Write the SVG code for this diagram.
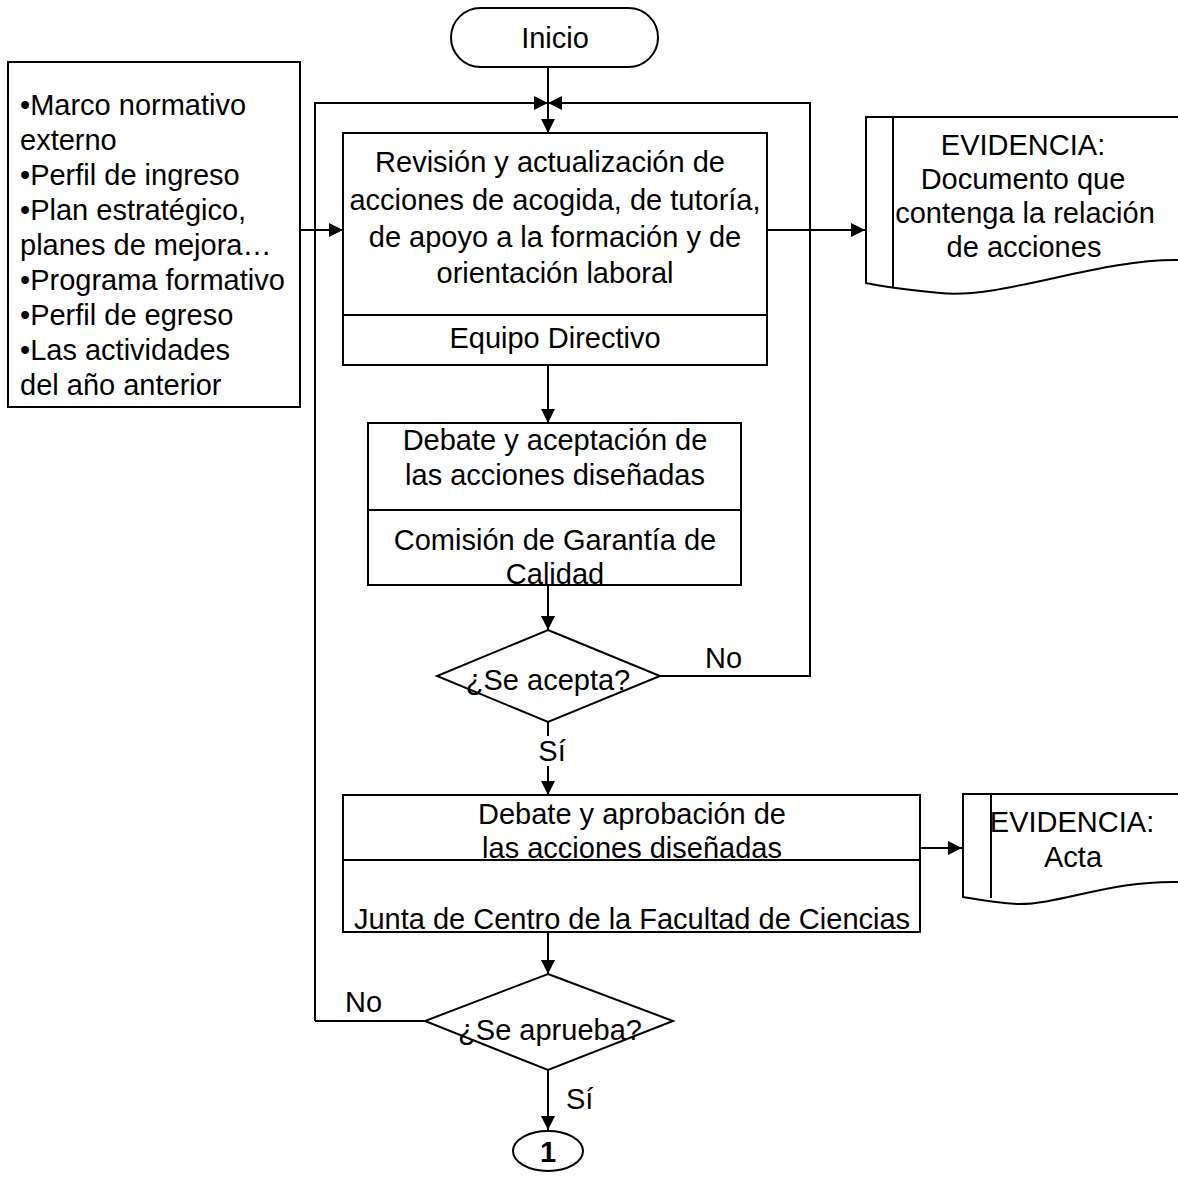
<svg xmlns="http://www.w3.org/2000/svg" width="1178" height="1178" viewBox="0 0 1178 1178">
<defs>
<marker id="arr" viewBox="0 0 10 10" refX="10" refY="5" markerWidth="14" markerHeight="14" markerUnits="userSpaceOnUse" orient="auto">
<path d="M0,0 L10,5 L0,10 z" fill="#000"/>
</marker>
<style>
.s{fill:#fff;stroke:#000;stroke-width:2}
.l{fill:none;stroke:#000;stroke-width:2}
.c{stroke:#000;stroke-width:2;fill:none;marker-end:url(#arr)}
text{font-family:"Liberation Sans",Arial,sans-serif;font-size:29px;fill:#000}
.m{text-anchor:middle}
</style>
</defs>
<rect width="1178" height="1178" fill="#fff"/>
<g id="connectors">
<path class="c" d="M548,67 V133"/>
<path class="c" d="M315,1021 V103 H548"/>
<path class="c" d="M660,676 H810 V103 H548"/>
<path class="c" d="M300,230 H343"/>
<path class="c" d="M767,230 H865"/>
<path class="c" d="M548,365 V423"/>
<path class="c" d="M548,585 V630"/>
<path class="c" d="M548,722 V795"/>
<path class="c" d="M920,848 H962"/>
<path class="c" d="M548,932 V974"/>
<path class="l" d="M425,1021 H315"/>
<path class="c" d="M548,1070 V1130"/>
<rect x="530" y="736" width="38" height="30" fill="#fff"/>
<text class="m" x="552" y="761">Sí</text>
<text x="705" y="668">No</text>
<text x="345" y="1012">No</text>
<text x="566" y="1109">Sí</text>
</g>
<g id="inicio">
<rect class="s" x="451" y="8" width="207" height="59" rx="29.5"/>
<text class="m" x="555" y="48">Inicio</text>
</g>
<g id="entradas">
<rect class="s" x="8" y="62" width="292" height="345"/>
<text x="20" y="115">•Marco normativo</text>
<text x="20" y="150">externo</text>
<text x="20" y="185">•Perfil de ingreso</text>
<text x="20" y="220">•Plan estratégico,</text>
<text x="20" y="255">planes de mejora…</text>
<text x="20" y="290">•Programa formativo</text>
<text x="20" y="325">•Perfil de egreso</text>
<text x="20" y="360">•Las actividades</text>
<text x="20" y="395">del año anterior</text>
</g>
<g id="revision">
<rect class="s" x="343" y="133" width="424" height="232"/>
<path class="l" d="M343,315 H767"/>
<text class="m" x="550" y="172">Revisión y actualización de</text>
<text class="m" x="555" y="210">acciones de acogida, de tutoría,</text>
<text class="m" x="555" y="247">de apoyo a la formación y de</text>
<text class="m" x="555" y="283">orientación laboral</text>
<text class="m" x="555" y="348">Equipo Directivo</text>
</g>
<g id="evidencia1">
<path class="s" d="M866,117 H1180 V260 C1100,258 1000,300 940,293 C910,290 880,286 866,283 Z"/>
<path class="l" d="M893,117 V287"/>
<text class="m" x="1023" y="155">EVIDENCIA:</text>
<text class="m" x="1023" y="189">Documento que</text>
<text class="m" x="1025" y="223">contenga la relación</text>
<text class="m" x="1024" y="257">de acciones</text>
</g>
<g id="debate1">
<rect class="s" x="368" y="423" width="373" height="162"/>
<path class="l" d="M368,510 H741"/>
<text class="m" x="555" y="450">Debate y aceptación de</text>
<text class="m" x="555" y="485">las acciones diseñadas</text>
<text class="m" x="555" y="550">Comisión de Garantía de</text>
<text class="m" x="555" y="584">Calidad</text>
</g>
<g id="decision1">
<polygon class="s" points="548,630 660,676 548,722 437,676"/>
<text class="m" x="548" y="690">¿Se acepta?</text>
</g>
<g id="debate2">
<rect class="s" x="343" y="795" width="577" height="137"/>
<path class="l" d="M343,860 H920"/>
<text class="m" x="632" y="824">Debate y aprobación de</text>
<text class="m" x="632" y="858">las acciones diseñadas</text>
<text class="m" x="632" y="929">Junta de Centro de la Facultad de Ciencias</text>
</g>
<g id="evidencia2">
<path class="s" d="M963,794 H1180 V882 C1110,880 1060,905 1017,904 C995,903 975,899 963,897 Z"/>
<path class="l" d="M991,794 V898"/>
<text class="m" x="1072" y="832">EVIDENCIA:</text>
<text class="m" x="1073" y="867">Acta</text>
</g>
<g id="decision2">
<polygon class="s" points="548,974 673,1021 548,1070 425,1021"/>
<text class="m" x="550" y="1040">¿Se aprueba?</text>
</g>
<g id="conector1">
<ellipse class="s" cx="548" cy="1151" rx="35" ry="20"/>
<text class="m" x="548" y="1162" font-weight="bold">1</text>
</g>
</svg>
